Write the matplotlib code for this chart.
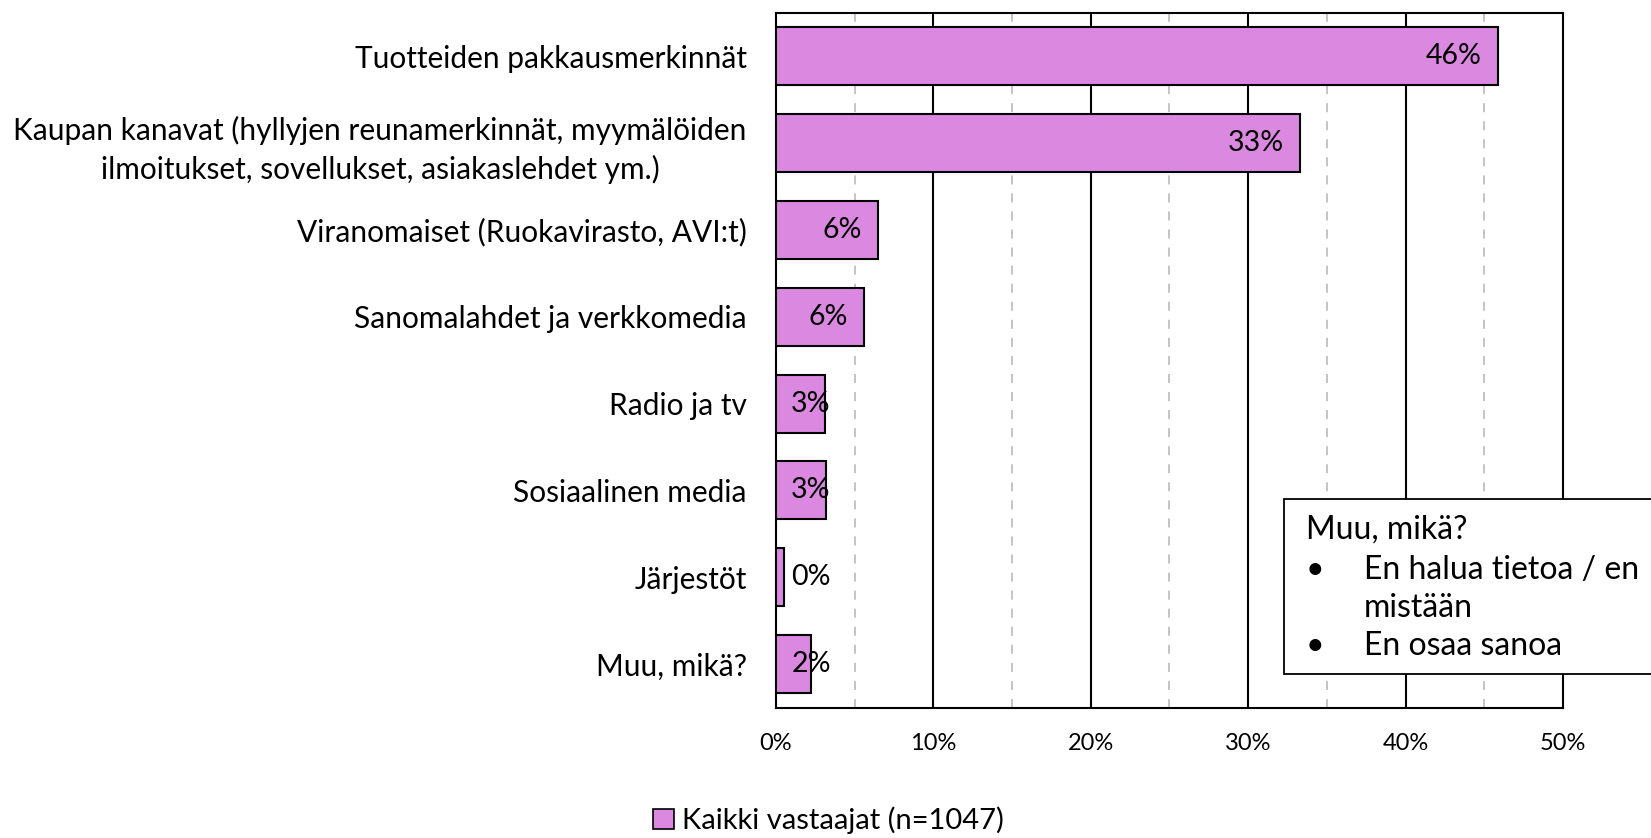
import matplotlib
matplotlib.use("Agg")
import matplotlib.pyplot as plt
from matplotlib.patches import Rectangle, Patch

plt.rcParams['font.family'] = ['Lato', 'DejaVu Sans']

categories = [
    "Tuotteiden pakkausmerkinnät",
    "Kaupan kanavat (hyllyjen reunamerkinnät, myymälöiden\nilmoitukset, sovellukset, asiakaslehdet ym.)",
    "Viranomaiset (Ruokavirasto, AVI:t)",
    "Sanomalahdet ja verkkomedia",
    "Radio ja tv",
    "Sosiaalinen media",
    "Järjestöt",
    "Muu, mikä?",
]
values = [45.9, 33.3, 6.5, 5.6, 3.1, 3.2, 0.5, 2.2]
value_labels = ["46%", "33%", "6%", "6%", "3%", "3%", "0%", "2%"]
series_name = "Kaikki vastaajat (n=1047)"
xticks = [0, 10, 20, 30, 40, 50]
xtick_labels = ["0%", "10%", "20%", "30%", "40%", "50%"]
minor_ticks = [5, 15, 25, 35, 45]
note_title = "Muu, mikä?"
note_items = [["En halua tietoa / en", "mistään"], ["En osaa sanoa"]]

bar_color = "#DA88E0"

fig = plt.figure(figsize=(16.51, 8.38), dpi=100)
ax = fig.add_axes([0.470, 0.1556, 0.4767, 0.8294])

ypos = list(range(len(categories)))
ax.barh(ypos, values, height=0.667, color=bar_color, edgecolor="black", linewidth=1.5, zorder=3)
ax.set_ylim(len(categories) - 0.5, -0.5)
ax.set_xlim(0, 50)

for x in xticks[1:-1]:
    ax.axvline(x, color="black", linewidth=1.5, zorder=1)
for x in minor_ticks:
    ax.axvline(x, color="#BFBFBF", linewidth=1.3, linestyle=(0, (5, 5)), zorder=1)

for y, v, lab in zip(ypos, values, value_labels):
    if v > 5:
        ax.annotate(lab, (v, y), xytext=(-12, 0), textcoords="offset points",
                    ha="right", va="center", fontsize=20.5, zorder=4)
    else:
        ax.annotate(lab, (0, y), xytext=(11, 0), textcoords="offset points",
                    ha="left", va="center", fontsize=20.5, zorder=4)

ax.set_yticks(ypos)
ax.set_yticklabels(categories, fontsize=21.5, multialignment="center", linespacing=1.4)
ax.set_xticks(xticks)
ax.set_xticklabels(xtick_labels, fontsize=17)
ax.tick_params(axis="both", length=0)
ax.tick_params(axis="y", pad=21)
ax.tick_params(axis="x", pad=18)
for s in ax.spines.values():
    s.set_linewidth(1.5)
    s.set_color("black")

# note box
fig.patches.append(Rectangle((0.778, 0.196), 0.4, 0.209, transform=fig.transFigure,
                             facecolor="white", edgecolor="black", linewidth=1.3, zorder=10))
fs = 23
x_bullet = 1306 / 1651
x_item = 1364 / 1651
fig.text(x_bullet, 1 - 530 / 838, note_title, fontsize=fs, va="center", ha="left", zorder=11)
line_h = 38
yy = 570
for item in note_items:
    fig.text(x_bullet, 1 - yy / 838, "•", fontsize=fs, va="center", ha="left", zorder=11)
    for line in item:
        fig.text(x_item, 1 - yy / 838, line, fontsize=fs, va="center", ha="left", zorder=11)
        yy += line_h

fig.legend(handles=[Patch(facecolor=bar_color, edgecolor="black", linewidth=1.2)],
           labels=[series_name], loc="center", bbox_to_anchor=(0.502, 0.021),
           frameon=False, fontsize=21, handlelength=0.7, handleheight=0.7, handletextpad=0.3,
           borderpad=0)

fig.savefig("out.png", dpi=100)
